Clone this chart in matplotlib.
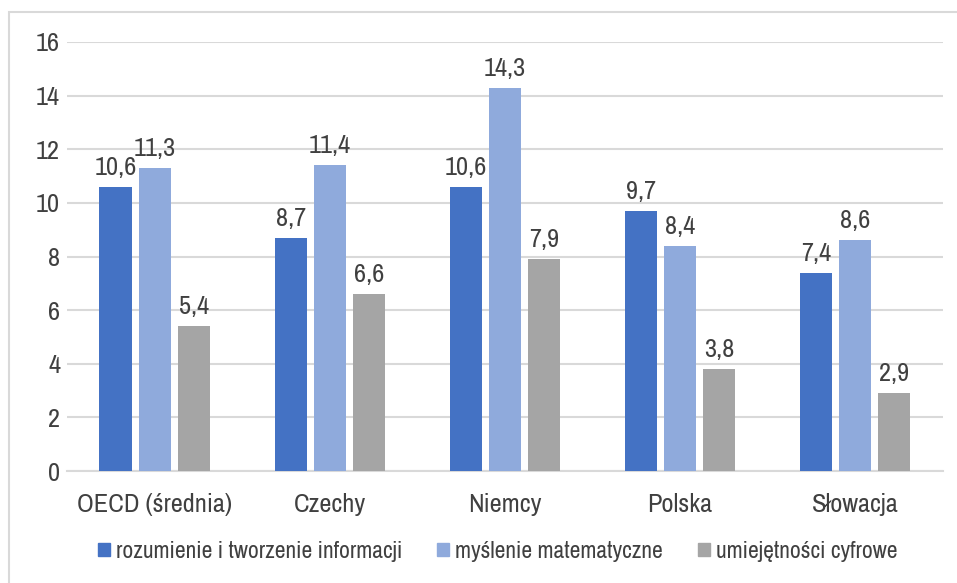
import matplotlib
matplotlib.use("Agg")
import matplotlib.pyplot as plt
import matplotlib.patches as mpatches
from matplotlib import font_manager
import numpy as np

# -- Data ---------------------------------------------------------------------

categories = ["OECD (średnia)", "Czechy", "Niemcy", "Polska", "Słowacja"]
series_names = [
    "rozumienie i tworzenie informacji",
    "myślenie matematyczne",
    "umiejętności cyfrowe",
]
rozumienie = [10.6, 8.7, 10.6, 9.7, 7.4]
myslenie = [11.3, 11.4, 14.3, 8.4, 8.6]
cyfrowe = [5.4, 6.6, 7.9, 3.8, 2.9]
yticks = [0, 2, 4, 6, 8, 10, 12, 14, 16]

COLORS = ["#4472C4", "#8FAADC", "#A5A5A5"]
TEXT = "#404040"

# Narrow face if installed, otherwise a condensed stretch
faces = [f.name for f in font_manager.fontManager.ttflist]
narrow = [n for n in faces if "Narrow" in n]
if narrow:
    plt.rcParams["font.family"] = narrow[:1] + ["DejaVu Sans"]
else:
    plt.rcParams["font.family"] = ["DejaVu Sans"]
    plt.rcParams["font.stretch"] = "condensed"
FS = 19
LEG_FS = 17

# -- Plot ---------------------------------------------------------------------

fig = plt.figure(figsize=(9.57, 5.83), dpi=100)
ax = fig.add_axes([0.070, 0.192, 0.915, 0.736])

x = np.arange(len(categories))
width = 0.183
step = 0.223
data = [rozumienie, myslenie, cyfrowe]

for i, (vals, color) in enumerate(zip(data, COLORS)):
    pos = x + (i - 1) * step
    ax.bar(pos, vals, width, color=color, zorder=3)
    for p, v in zip(pos, vals):
        ax.text(p, v + 0.3, f"{v:.1f}".replace(".", ","), ha="center",
                va="bottom", fontsize=FS, color=TEXT)

ax.set_xlim(-0.5, len(categories) - 0.5)
ax.set_ylim(0, 16)
ax.set_yticks(yticks)
ax.set_yticklabels([str(t) for t in yticks], fontsize=FS, color=TEXT)
ax.set_xticks(x)
ax.set_xticklabels(categories, fontsize=FS, color=TEXT)
ax.tick_params(axis="y", length=0, pad=5)
ax.tick_params(axis="x", length=0, pad=16)
ax.grid(axis="y", color="#D9D9D9", lw=1.5, zorder=0)
for side in ("top", "right", "left"):
    ax.spines[side].set_visible(False)
ax.spines["bottom"].set_color("#D9D9D9")
ax.spines["bottom"].set_linewidth(1.5)

handles = [mpatches.Patch(color=c, label=n) for c, n in zip(COLORS, series_names)]
leg = fig.legend(handles=handles, loc="center", bbox_to_anchor=(0.52, 0.054),
                 ncol=3, frameon=False, fontsize=LEG_FS, handlelength=0.5,
                 handleheight=0.5, handletextpad=0.25, columnspacing=1.5)
for t in leg.get_texts():
    t.set_color(TEXT)

# outer chart frame
fig.patches.append(mpatches.Rectangle((9 / 957, -0.05), 1.2, 1 - 12 / 583 + 0.05,
                                      transform=fig.transFigure, fill=False,
                                      edgecolor="#D9D9D9", lw=1.5))

fig.savefig("out.png", dpi=100)
